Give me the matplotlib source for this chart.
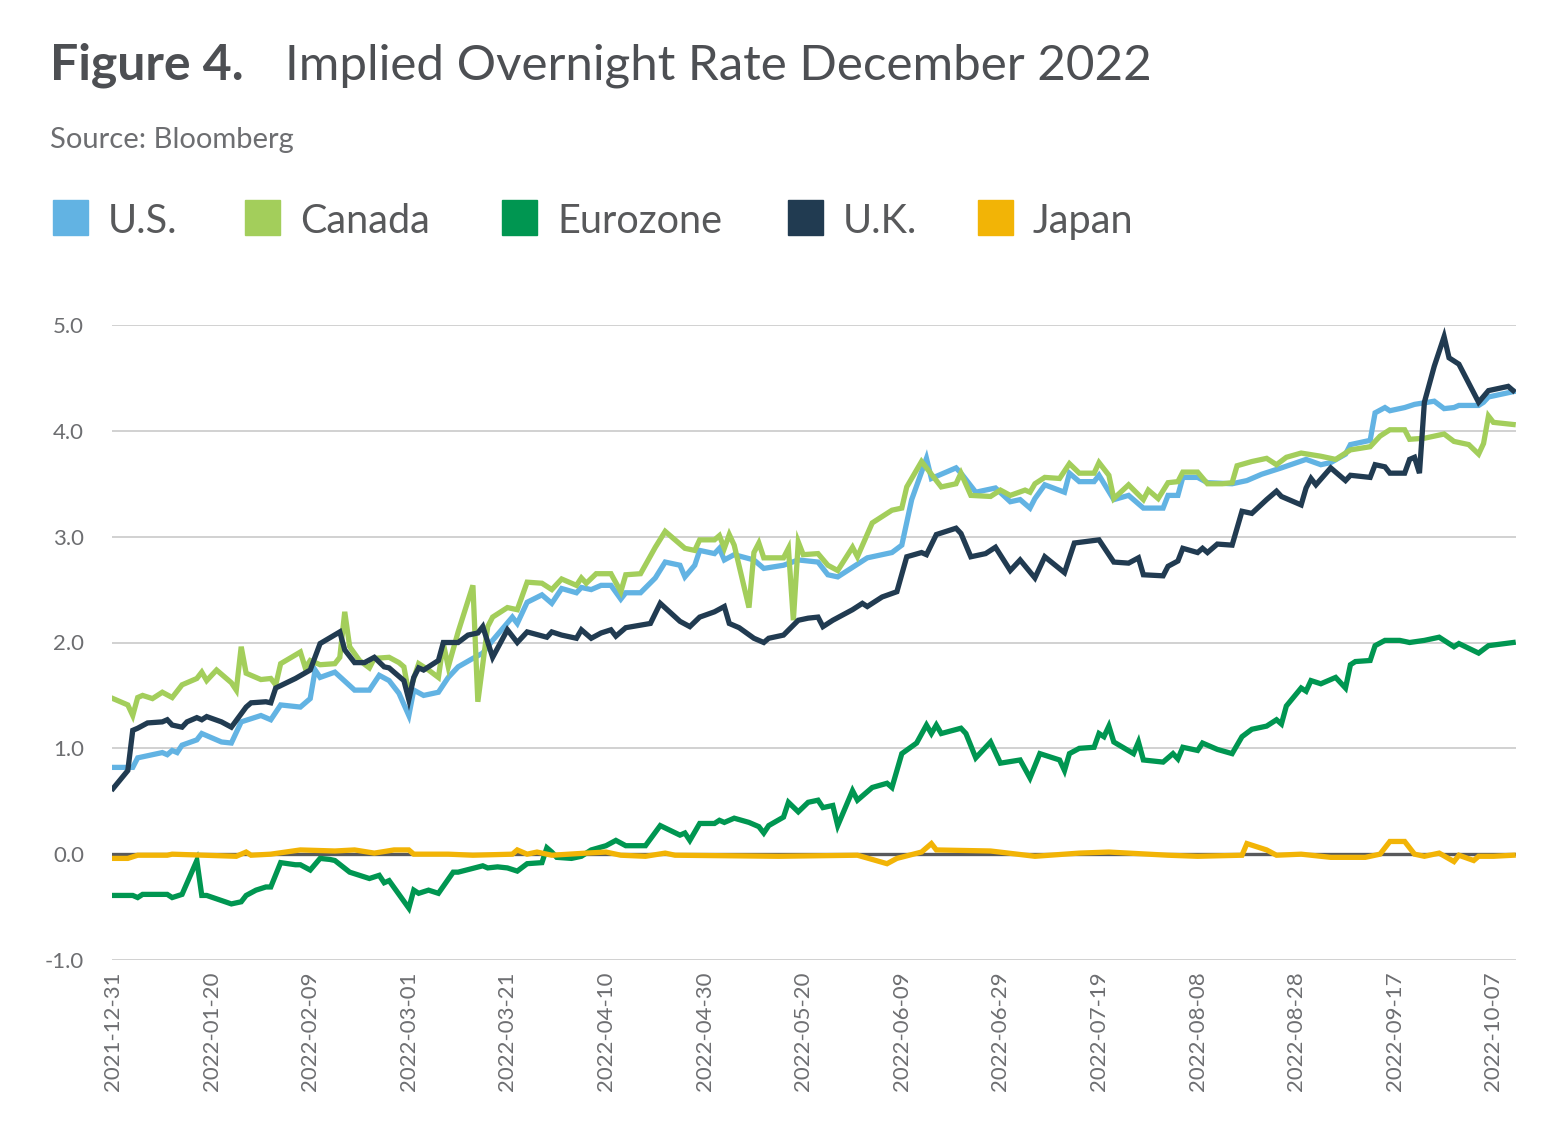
import pandas as pd
import matplotlib.pyplot as plt
from matplotlib.patches import Rectangle

plt.rcParams['font.family'] = ['Lato', 'DejaVu Sans']

# ---- data ----
us_dates = ['2021-12-31', '2022-01-04', '2022-01-05', '2022-01-10', '2022-01-11', '2022-01-12', '2022-01-13',
            '2022-01-14', '2022-01-17', '2022-01-18', '2022-01-20', '2022-01-22', '2022-01-24', '2022-01-26',
            '2022-01-28', '2022-01-30', '2022-02-01', '2022-02-03', '2022-02-07', '2022-02-09', '2022-02-10',
            '2022-02-11', '2022-02-14', '2022-02-18', '2022-02-21', '2022-02-23', '2022-02-25', '2022-02-27',
            '2022-03-01', '2022-03-02', '2022-03-04', '2022-03-07', '2022-03-09', '2022-03-11', '2022-03-14',
            '2022-03-16', '2022-03-18', '2022-03-22', '2022-03-23', '2022-03-25', '2022-03-28', '2022-03-30',
            '2022-04-01', '2022-04-04', '2022-04-05', '2022-04-07', '2022-04-09', '2022-04-11', '2022-04-13',
            '2022-04-14', '2022-04-17', '2022-04-20', '2022-04-22', '2022-04-25', '2022-04-26', '2022-04-28',
            '2022-04-29', '2022-05-02', '2022-05-03', '2022-05-04', '2022-05-06', '2022-05-10', '2022-05-12',
            '2022-05-16', '2022-05-19', '2022-05-23', '2022-05-25', '2022-05-27', '2022-05-29', '2022-06-02',
            '2022-06-07', '2022-06-09', '2022-06-11', '2022-06-14', '2022-06-15', '2022-06-20', '2022-06-21',
            '2022-06-24', '2022-06-28', '2022-07-01', '2022-07-03', '2022-07-05', '2022-07-06', '2022-07-08',
            '2022-07-12', '2022-07-13', '2022-07-15', '2022-07-18', '2022-07-19', '2022-07-22', '2022-07-25',
            '2022-07-28', '2022-08-01', '2022-08-02', '2022-08-04', '2022-08-05', '2022-08-08', '2022-08-10',
            '2022-08-15', '2022-08-18', '2022-08-21', '2022-08-25', '2022-08-30', '2022-09-02', '2022-09-04',
            '2022-09-07', '2022-09-08', '2022-09-12', '2022-09-13', '2022-09-15', '2022-09-16', '2022-09-19',
            '2022-09-21', '2022-09-25', '2022-09-27', '2022-09-29', '2022-09-30', '2022-10-04', '2022-10-05',
            '2022-10-06', '2022-10-11']
us_vals = [0.82, 0.82, 0.91, 0.96, 0.94, 0.98, 0.96,
           1.03, 1.08, 1.14, 1.10, 1.06, 1.05, 1.25,
           1.28, 1.31, 1.27, 1.41, 1.39, 1.47, 1.74,
           1.67, 1.72, 1.55, 1.55, 1.69, 1.64, 1.52,
           1.31, 1.55, 1.50, 1.53, 1.67, 1.77, 1.85,
           1.90, 2.02, 2.24, 2.18, 2.38, 2.45, 2.37,
           2.51, 2.47, 2.52, 2.50, 2.54, 2.54, 2.41,
           2.47, 2.47, 2.61, 2.76, 2.73, 2.62, 2.73,
           2.87, 2.84, 2.89, 2.78, 2.83, 2.78, 2.70,
           2.73, 2.78, 2.76, 2.64, 2.62, 2.68, 2.80,
           2.85, 2.92, 3.35, 3.74, 3.55, 3.65, 3.60,
           3.42, 3.46, 3.33, 3.35, 3.27, 3.36, 3.49,
           3.42, 3.60, 3.52, 3.52, 3.58, 3.35, 3.39,
           3.27, 3.27, 3.39, 3.39, 3.56, 3.56, 3.51,
           3.50, 3.53, 3.59, 3.65, 3.73, 3.68, 3.70,
           3.78, 3.87, 3.91, 4.17, 4.22, 4.19, 4.22,
           4.25, 4.28, 4.21, 4.22, 4.24, 4.24, 4.27,
           4.32, 4.37]

canada_dates = ['2021-12-31', '2022-01-03', '2022-01-04', '2022-01-05', '2022-01-06', '2022-01-08', '2022-01-10',
                '2022-01-12', '2022-01-14', '2022-01-17', '2022-01-18', '2022-01-19', '2022-01-21', '2022-01-24',
                '2022-01-25', '2022-01-26', '2022-01-27', '2022-01-30', '2022-02-01', '2022-02-02', '2022-02-03',
                '2022-02-07', '2022-02-08', '2022-02-09', '2022-02-11', '2022-02-14', '2022-02-15', '2022-02-16',
                '2022-02-17', '2022-02-19', '2022-02-21', '2022-02-22', '2022-02-25', '2022-02-27', '2022-02-28',
                '2022-03-01', '2022-03-03', '2022-03-05', '2022-03-07', '2022-03-08', '2022-03-09', '2022-03-11',
                '2022-03-14', '2022-03-15', '2022-03-17', '2022-03-18', '2022-03-21', '2022-03-23', '2022-03-25',
                '2022-03-28', '2022-03-30', '2022-04-01', '2022-04-04', '2022-04-05', '2022-04-06', '2022-04-08',
                '2022-04-11', '2022-04-13', '2022-04-14', '2022-04-17', '2022-04-20', '2022-04-22', '2022-04-24',
                '2022-04-26', '2022-04-28', '2022-04-29', '2022-05-02', '2022-05-03', '2022-05-04', '2022-05-05',
                '2022-05-06', '2022-05-09', '2022-05-10', '2022-05-11', '2022-05-12', '2022-05-16', '2022-05-17',
                '2022-05-18', '2022-05-19', '2022-05-20', '2022-05-23', '2022-05-25', '2022-05-27', '2022-05-30',
                '2022-05-31', '2022-06-03', '2022-06-07', '2022-06-09', '2022-06-10', '2022-06-13', '2022-06-17',
                '2022-06-20', '2022-06-21', '2022-06-23', '2022-06-27', '2022-06-29', '2022-07-01', '2022-07-04',
                '2022-07-05', '2022-07-06', '2022-07-08', '2022-07-11', '2022-07-13', '2022-07-15', '2022-07-18',
                '2022-07-19', '2022-07-21', '2022-07-22', '2022-07-25', '2022-07-28', '2022-07-29', '2022-07-31',
                '2022-08-02', '2022-08-04', '2022-08-05', '2022-08-08', '2022-08-10', '2022-08-13', '2022-08-15',
                '2022-08-16', '2022-08-19', '2022-08-22', '2022-08-24', '2022-08-26', '2022-08-29', '2022-09-02',
                '2022-09-05', '2022-09-08', '2022-09-12', '2022-09-14', '2022-09-16', '2022-09-19', '2022-09-20',
                '2022-09-23', '2022-09-27', '2022-09-29', '2022-10-02', '2022-10-04', '2022-10-05', '2022-10-06',
                '2022-10-07', '2022-10-11']
canada_vals = [1.47, 1.41, 1.31, 1.48, 1.50, 1.47, 1.53,
               1.48, 1.60, 1.66, 1.72, 1.64, 1.74, 1.62,
               1.55, 1.96, 1.71, 1.65, 1.66, 1.60, 1.80,
               1.91, 1.76, 1.83, 1.79, 1.80, 1.86, 2.29,
               1.96, 1.83, 1.76, 1.85, 1.86, 1.81, 1.77,
               1.52, 1.80, 1.74, 1.67, 1.99, 1.77, 2.10,
               2.54, 1.44, 2.15, 2.24, 2.33, 2.31, 2.57,
               2.56, 2.50, 2.60, 2.54, 2.61, 2.56, 2.65,
               2.65, 2.48, 2.64, 2.65, 2.90, 3.05, 2.97,
               2.89, 2.87, 2.97, 2.97, 3.01, 2.89, 3.02,
               2.92, 2.33, 2.85, 2.94, 2.80, 2.80, 2.89,
               2.21, 2.95, 2.83, 2.84, 2.73, 2.68, 2.90,
               2.81, 3.13, 3.25, 3.27, 3.47, 3.71, 3.47,
               3.50, 3.60, 3.39, 3.38, 3.44, 3.39, 3.44,
               3.42, 3.50, 3.56, 3.55, 3.69, 3.60, 3.60,
               3.70, 3.58, 3.36, 3.49, 3.35, 3.44, 3.36,
               3.51, 3.52, 3.61, 3.61, 3.50, 3.50, 3.51,
               3.67, 3.71, 3.74, 3.68, 3.75, 3.79, 3.76,
               3.73, 3.82, 3.85, 3.95, 4.01, 4.01, 3.92,
               3.93, 3.97, 3.90, 3.87, 3.78, 3.88, 4.14,
               4.08, 4.06]

euro_dates = ['2021-12-31', '2022-01-04', '2022-01-05', '2022-01-06', '2022-01-11', '2022-01-12', '2022-01-14',
              '2022-01-17', '2022-01-18', '2022-01-19', '2022-01-24', '2022-01-26', '2022-01-27', '2022-01-29',
              '2022-01-31', '2022-02-01', '2022-02-03', '2022-02-06', '2022-02-07', '2022-02-09', '2022-02-11',
              '2022-02-13', '2022-02-14', '2022-02-17', '2022-02-21', '2022-02-23', '2022-02-24', '2022-02-25',
              '2022-03-01', '2022-03-02', '2022-03-03', '2022-03-05', '2022-03-07', '2022-03-10', '2022-03-11',
              '2022-03-16', '2022-03-17', '2022-03-19', '2022-03-21', '2022-03-23', '2022-03-25', '2022-03-28',
              '2022-03-29', '2022-03-30', '2022-03-31', '2022-04-03', '2022-04-05', '2022-04-07', '2022-04-10',
              '2022-04-12', '2022-04-14', '2022-04-18', '2022-04-21', '2022-04-25', '2022-04-26', '2022-04-27',
              '2022-04-29', '2022-05-02', '2022-05-03', '2022-05-04', '2022-05-06', '2022-05-09', '2022-05-11',
              '2022-05-12', '2022-05-13', '2022-05-16', '2022-05-17', '2022-05-19', '2022-05-21', '2022-05-23',
              '2022-05-24', '2022-05-26', '2022-05-27', '2022-05-30', '2022-05-31', '2022-06-03', '2022-06-06',
              '2022-06-07', '2022-06-09', '2022-06-12', '2022-06-14', '2022-06-15', '2022-06-16', '2022-06-17',
              '2022-06-21', '2022-06-22', '2022-06-24', '2022-06-27', '2022-06-29', '2022-07-03', '2022-07-05',
              '2022-07-07', '2022-07-11', '2022-07-12', '2022-07-13', '2022-07-15', '2022-07-18', '2022-07-19',
              '2022-07-20', '2022-07-21', '2022-07-22', '2022-07-26', '2022-07-27', '2022-07-28', '2022-08-01',
              '2022-08-03', '2022-08-04', '2022-08-05', '2022-08-08', '2022-08-09', '2022-08-12', '2022-08-15',
              '2022-08-17', '2022-08-19', '2022-08-22', '2022-08-24', '2022-08-25', '2022-08-26', '2022-08-29',
              '2022-08-30', '2022-08-31', '2022-09-02', '2022-09-05', '2022-09-07', '2022-09-08', '2022-09-09',
              '2022-09-12', '2022-09-13', '2022-09-15', '2022-09-18', '2022-09-20', '2022-09-23', '2022-09-26',
              '2022-09-29', '2022-09-30', '2022-10-04', '2022-10-06', '2022-10-11']
euro_vals = [-0.39, -0.39, -0.41, -0.38, -0.38, -0.41, -0.38,
             -0.06, -0.39, -0.39, -0.47, -0.45, -0.39, -0.34,
             -0.31, -0.31, -0.08, -0.10, -0.10, -0.15, -0.04,
             -0.05, -0.06, -0.17, -0.23, -0.20, -0.27, -0.25,
             -0.51, -0.34, -0.37, -0.34, -0.37, -0.17, -0.17,
             -0.11, -0.13, -0.12, -0.13, -0.16, -0.09, -0.08,
             0.06, 0.02, -0.03, -0.04, -0.02, 0.04, 0.08,
             0.13, 0.08, 0.08, 0.27, 0.18, 0.20, 0.13,
             0.29, 0.29, 0.32, 0.30, 0.34, 0.30, 0.26,
             0.20, 0.27, 0.35, 0.49, 0.40, 0.49, 0.51,
             0.44, 0.46, 0.27, 0.60, 0.51, 0.63, 0.67,
             0.63, 0.95, 1.05, 1.22, 1.14, 1.22, 1.14,
             1.19, 1.14, 0.91, 1.06, 0.86, 0.89, 0.72,
             0.95, 0.89, 0.79, 0.95, 1.00, 1.01, 1.14,
             1.11, 1.21, 1.06, 0.95, 1.06, 0.89, 0.87,
             0.95, 0.90, 1.01, 0.98, 1.05, 0.99, 0.95,
             1.11, 1.18, 1.21, 1.27, 1.23, 1.40, 1.57,
             1.54, 1.64, 1.61, 1.67, 1.57, 1.79, 1.82,
             1.83, 1.97, 2.02, 2.02, 2.00, 2.02, 2.05,
             1.96, 1.99, 1.90, 1.97, 2.00]

uk_dates = ['2021-12-31', '2022-01-03', '2022-01-04', '2022-01-05', '2022-01-07', '2022-01-10', '2022-01-11',
            '2022-01-12', '2022-01-14', '2022-01-15', '2022-01-17', '2022-01-18', '2022-01-19', '2022-01-22',
            '2022-01-24', '2022-01-27', '2022-01-28', '2022-01-31', '2022-02-01', '2022-02-02', '2022-02-06',
            '2022-02-09', '2022-02-11', '2022-02-15', '2022-02-16', '2022-02-18', '2022-02-20', '2022-02-22',
            '2022-02-24', '2022-02-25', '2022-02-28', '2022-03-01', '2022-03-02', '2022-03-03', '2022-03-04',
            '2022-03-07', '2022-03-08', '2022-03-11', '2022-03-13', '2022-03-15', '2022-03-16', '2022-03-18',
            '2022-03-21', '2022-03-23', '2022-03-25', '2022-03-29', '2022-03-30', '2022-04-01', '2022-04-04',
            '2022-04-05', '2022-04-07', '2022-04-09', '2022-04-11', '2022-04-12', '2022-04-14', '2022-04-19',
            '2022-04-21', '2022-04-25', '2022-04-27', '2022-04-29', '2022-05-02', '2022-05-04', '2022-05-05',
            '2022-05-07', '2022-05-10', '2022-05-12', '2022-05-13', '2022-05-16', '2022-05-19', '2022-05-21',
            '2022-05-23', '2022-05-24', '2022-05-26', '2022-05-30', '2022-06-01', '2022-06-02', '2022-06-05',
            '2022-06-08', '2022-06-10', '2022-06-13', '2022-06-14', '2022-06-16', '2022-06-20', '2022-06-21',
            '2022-06-23', '2022-06-26', '2022-06-28', '2022-07-01', '2022-07-03', '2022-07-06', '2022-07-08',
            '2022-07-12', '2022-07-14', '2022-07-19', '2022-07-22', '2022-07-25', '2022-07-27', '2022-07-28',
            '2022-08-01', '2022-08-02', '2022-08-04', '2022-08-05', '2022-08-08', '2022-08-09', '2022-08-10',
            '2022-08-12', '2022-08-15', '2022-08-17', '2022-08-19', '2022-08-22', '2022-08-24', '2022-08-25',
            '2022-08-29', '2022-08-30', '2022-08-31', '2022-09-01', '2022-09-04', '2022-09-07', '2022-09-08',
            '2022-09-12', '2022-09-13', '2022-09-15', '2022-09-16', '2022-09-19', '2022-09-20', '2022-09-21',
            '2022-09-22', '2022-09-23', '2022-09-25', '2022-09-27', '2022-09-28', '2022-09-30', '2022-10-04',
            '2022-10-06', '2022-10-10', '2022-10-11']
uk_vals = [0.62, 0.79, 1.17, 1.19, 1.24, 1.25, 1.27,
           1.22, 1.20, 1.25, 1.29, 1.27, 1.30, 1.25,
           1.20, 1.39, 1.43, 1.44, 1.43, 1.57, 1.66,
           1.74, 1.99, 2.10, 1.93, 1.81, 1.81, 1.86,
           1.77, 1.76, 1.64, 1.46, 1.67, 1.76, 1.74,
           1.83, 2.00, 2.00, 2.07, 2.09, 2.15, 1.86,
           2.12, 2.00, 2.10, 2.05, 2.10, 2.07, 2.04,
           2.12, 2.04, 2.09, 2.12, 2.06, 2.14, 2.18,
           2.37, 2.20, 2.15, 2.24, 2.29, 2.34, 2.18,
           2.14, 2.04, 2.00, 2.04, 2.07, 2.21, 2.23,
           2.24, 2.15, 2.21, 2.31, 2.37, 2.34, 2.43,
           2.48, 2.81, 2.85, 2.83, 3.02, 3.08, 3.03,
           2.81, 2.84, 2.90, 2.68, 2.78, 2.61, 2.81,
           2.66, 2.94, 2.97, 2.76, 2.75, 2.80, 2.64,
           2.63, 2.72, 2.77, 2.89, 2.85, 2.89, 2.85,
           2.93, 2.92, 3.24, 3.22, 3.35, 3.43, 3.38,
           3.30, 3.46, 3.55, 3.49, 3.65, 3.53, 3.58,
           3.56, 3.68, 3.66, 3.60, 3.60, 3.73, 3.75,
           3.60, 4.27, 4.61, 4.89, 4.69, 4.63, 4.27,
           4.38, 4.42, 4.38]

japan_dates = ['2021-12-31', '2022-01-03', '2022-01-05', '2022-01-11', '2022-01-12', '2022-01-25', '2022-01-27',
               '2022-01-28', '2022-02-01', '2022-02-07', '2022-02-14', '2022-02-18', '2022-02-22', '2022-02-26',
               '2022-03-01', '2022-03-02', '2022-03-09', '2022-03-14', '2022-03-22', '2022-03-23', '2022-03-25',
               '2022-03-27', '2022-03-30', '2022-04-06', '2022-04-10', '2022-04-13', '2022-04-18', '2022-04-22',
               '2022-04-24', '2022-05-15', '2022-05-31', '2022-06-06', '2022-06-08', '2022-06-13', '2022-06-15',
               '2022-06-16', '2022-06-27', '2022-07-06', '2022-07-15', '2022-07-21', '2022-08-02', '2022-08-08',
               '2022-08-17', '2022-08-18', '2022-08-22', '2022-08-24', '2022-08-29', '2022-09-04', '2022-09-11',
               '2022-09-14', '2022-09-16', '2022-09-19', '2022-09-21', '2022-09-23', '2022-09-26', '2022-09-29',
               '2022-09-30', '2022-10-03', '2022-10-04', '2022-10-07', '2022-10-11']
japan_vals = [-0.04, -0.04, -0.01, -0.01, 0.00, -0.02, 0.02,
              -0.01, 0.00, 0.04, 0.03, 0.04, 0.01, 0.04,
              0.04, 0.00, 0.00, -0.01, 0.00, 0.04, 0.00,
              0.02, -0.01, 0.01, 0.02, -0.01, -0.02, 0.01,
              -0.01, -0.02, -0.01, -0.09, -0.04, 0.02, 0.10,
              0.04, 0.03, -0.02, 0.01, 0.02, -0.01, -0.02,
              -0.01, 0.10, 0.04, -0.01, 0.00, -0.03, -0.03,
              0.00, 0.12, 0.12, 0.00, -0.02, 0.01, -0.07,
              -0.01, -0.06, -0.02, -0.02, -0.01]

series = [
    ('U.S.', us_dates, us_vals, '#62b3e3'),
    ('Canada', canada_dates, canada_vals, '#a3ce5b'),
    ('Eurozone', euro_dates, euro_vals, '#009651'),
    ('U.K.', uk_dates, uk_vals, '#213b51'),
    ('Japan', japan_dates, japan_vals, '#f2b406'),
]

tick_labels = ['2021-12-31', '2022-01-20', '2022-02-09', '2022-03-01', '2022-03-21', '2022-04-10',
               '2022-04-30', '2022-05-20', '2022-06-09', '2022-06-29', '2022-07-19', '2022-08-08',
               '2022-08-28', '2022-09-17', '2022-10-07']
y_ticks = [-1.0, 0.0, 1.0, 2.0, 3.0, 4.0, 5.0]

text_col = '#58595b'
tick_col = '#6d6e71'

fig = plt.figure(figsize=(15.6, 11.24), dpi=100)
ax = fig.add_axes([112 / 1560, 1 - 960 / 1124, (1516 - 112) / 1560, (960 - 325) / 1124])

ax.axhline(0, color='#58595b', lw=2.4, zorder=1)
for name, d, v, c in series:
    ax.plot(pd.to_datetime(d), v, color=c, lw=3.8, solid_joinstyle='miter', zorder=2)

ax.set_ylim(-1, 5)
ax.set_yticks(y_ticks)
ax.set_yticklabels(['%.1f' % t for t in y_ticks])
ax.grid(axis='y', color='#c9c9c9', lw=1.2, zorder=0)
ax.set_axisbelow(True)

ticks = pd.to_datetime(tick_labels)
ax.set_xticks(ticks)
ax.set_xticklabels(tick_labels, rotation=90, va='top', ha='center')
ax.set_xlim(pd.Timestamp('2021-12-31') - pd.Timedelta(hours=5),
            pd.Timestamp('2022-10-11') + pd.Timedelta(hours=14))

for s in ax.spines.values():
    s.set_visible(False)
ax.tick_params(axis='both', length=0, colors=tick_col, labelsize=16)
ax.tick_params(axis='y', pad=20)
ax.tick_params(axis='x', pad=8)

# title block
fig.text(50 / 1560, 1 - 80 / 1124, 'Figure 4.', fontsize=36, fontweight='bold', color='#4d4f53', va='baseline')
fig.text(285 / 1560, 1 - 80 / 1124, 'Implied Overnight Rate December 2022', fontsize=35.5, color='#4d4f53',
         va='baseline')
fig.text(50 / 1560, 1 - 148 / 1124, 'Source: Bloomberg', fontsize=21, color=tick_col, va='baseline')

# legend drawn by hand to match the layout
leg_x = [53, 245, 502, 788, 978]
for (name, d, v, c), x in zip(series, leg_x):
    fig.patches.append(Rectangle((x / 1560, 1 - 235 / 1124), 35 / 1560, 35 / 1124,
                                 transform=fig.transFigure, color=c))
    fig.text((x + 55) / 1560, 1 - 233 / 1124, name, fontsize=28.5, color=text_col, va='baseline')

fig.savefig('out.png', dpi=100)
